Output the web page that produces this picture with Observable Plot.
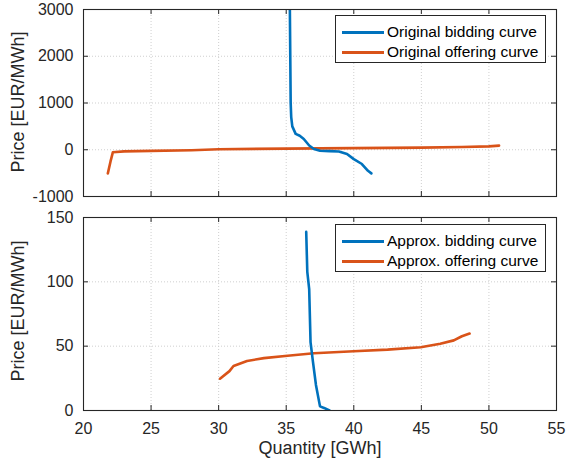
<!DOCTYPE html>
<html><head><meta charset="utf-8">
<script src="https://cdn.jsdelivr.net/npm/d3@7"></script>
<script src="https://cdn.jsdelivr.net/npm/@observablehq/plot@0.6"></script>
<style>
body{margin:0;background:#fff;font-family:"Liberation Sans",Arial,sans-serif}
#wrap{position:relative;width:566px;height:464px;overflow:hidden}
#wrap svg{display:block}
.legend{position:absolute;left:335px;width:211px;height:48px;border:1px solid #262626;background:#fff;box-sizing:border-box;font-size:15.5px;color:#000}
.legend .row{position:absolute;left:0;height:20px;line-height:20px;white-space:nowrap}
.legend .sw{position:absolute;left:6px;top:9px;width:42px;height:3px}
.legend .tx{position:absolute;left:51px;top:0}
.ylab{position:absolute;font-size:18px;color:#262626;white-space:nowrap;transform:translate(-50%,-50%) rotate(-90deg)}
.xlab{position:absolute;font-size:18px;color:#262626;white-space:nowrap;transform:translate(-50%,-50%)}
</style></head>
<body><div id="wrap"></div>
<script>
// ---- data ----
const xTicks = [20, 25, 30, 35, 40, 45, 50, 55];
const topYTicks = [-1000, 0, 1000, 2000, 3000];
const botYTicks = [0, 50, 100, 150];

const origBidQ = [35.27, 35.3, 35.33, 35.37, 35.45, 35.7, 36.0, 36.3, 36.7, 37.05, 37.5, 38.2, 38.9, 39.5, 40.0, 40.6, 41.05, 41.3];
const origBidP = [3000, 2000, 1000, 700, 500, 340, 300, 230, 90, 15, -20, -30, -36, -90, -200, -305, -450, -505];
const origOffQ = [21.8, 22.0, 22.17, 23, 25, 28, 30, 35, 40, 45, 48, 50, 50.75];
const origOffP = [-505, -250, -55, -35, -25, -10, 10, 25, 35, 45, 58, 72, 88];

const apprBidQ = [36.48, 36.56, 36.7, 36.8, 36.97, 37.2, 37.5, 37.8, 38.2];
const apprBidP = [138.8, 107.7, 94.4, 53.2, 38.5, 19.9, 3.2, 2.0, 0];
const apprOffQ = [30.1, 30.8, 31.1, 32.1, 33.35, 35.1, 37.05, 40.0, 42.5, 44.95, 46.4, 47.4, 48.0, 48.57];
const apprOffP = [24.7, 30.6, 34.6, 38.5, 40.7, 42.5, 44.5, 46.0, 47.3, 49.2, 51.9, 54.5, 57.7, 59.8];

const seriesNames = ["Original bidding curve", "Original offering curve", "Approx. bidding curve", "Approx. offering curve"];
const BLUE = "#0072BD", ORANGE = "#D95319", AX = "#262626";

const toRows = (qs, ps) => qs.map((q, i) => ({q, p: ps[i]}));

const W = 566, ML = 83, MR = 10;
const pw = W - ML - MR;

function panel({height, marginTop, marginBottom, yDomain, yTicks, bid, off, showX}) {
  const ph = height - marginTop - marginBottom;
  const marks = [
    Plot.gridX(xTicks, {stroke: "#cfcfcf", strokeOpacity: 1, strokeDasharray: "1,2"}),
    Plot.gridY(yTicks, {stroke: "#cfcfcf", strokeOpacity: 1, strokeDasharray: "1,2"}),
    Plot.line(toRows(off.q, off.p), {x: "q", y: "p", stroke: ORANGE, strokeWidth: 2.6, clip: true}),
    Plot.line(toRows(bid.q, bid.p), {x: "q", y: "p", stroke: BLUE, strokeWidth: 2.6, clip: true}),
    Plot.tickX(xTicks, {x: d => d, insetTop: ph - 5, stroke: AX}),
    Plot.tickX(xTicks, {x: d => d, insetBottom: ph - 5, stroke: AX}),
    Plot.tickY(yTicks, {y: d => d, insetRight: pw - 5, stroke: AX}),
    Plot.tickY(yTicks, {y: d => d, insetLeft: pw - 5, stroke: AX}),
    Plot.frame({stroke: AX, strokeWidth: 1.1}),
    Plot.axisY(yTicks, {tickSize: 0, tickPadding: 10, label: null, fontSize: 16, fill: AX, tickFormat: d => String(d)})
  ];
  if (showX) marks.push(Plot.axisX(xTicks, {tickSize: 0, tickPadding: 12, label: null, fontSize: 16, fill: AX}));
  return Plot.plot({
    width: W, height, marginLeft: ML, marginRight: MR, marginTop, marginBottom,
    x: {domain: [20, 55], axis: showX ? undefined : null},
    y: {domain: yDomain},
    style: {fontFamily: '"Liberation Sans", Arial, sans-serif', background: "#fff", overflow: "visible"},
    marks
  });
}

const wrap = document.getElementById("wrap");
wrap.appendChild(panel({
  height: 205, marginTop: 9, marginBottom: 9, yDomain: [-1000, 3000], yTicks: topYTicks,
  bid: {q: origBidQ, p: origBidP}, off: {q: origOffQ, p: origOffP}, showX: false
}));
wrap.appendChild(panel({
  height: 259, marginTop: 12, marginBottom: 54, yDomain: [0, 150], yTicks: botYTicks,
  bid: {q: apprBidQ, p: apprBidP}, off: {q: apprOffQ, p: apprOffP}, showX: true
}));

function legend(top, names) {
  const d = document.createElement("div");
  d.className = "legend";
  d.style.top = top + "px";
  [[names[0], BLUE, 6], [names[1], ORANGE, 26]].forEach(([t, c, y]) => {
    const r = document.createElement("div");
    r.className = "row"; r.style.top = y + "px";
    r.innerHTML = `<div class="sw" style="background:${c}"></div><div class="tx">${t}</div>`;
    d.appendChild(r);
  });
  wrap.appendChild(d);
}
legend(15, seriesNames.slice(0, 2));
legend(224, seriesNames.slice(2, 4));

function label(cls, text, x, y) {
  const d = document.createElement("div");
  d.className = cls; d.textContent = text;
  d.style.left = x + "px"; d.style.top = y + "px";
  wrap.appendChild(d);
}
label("ylab", "Price [EUR/MWh]", 18, 102);
label("ylab", "Price [EUR/MWh]", 18, 311);
label("xlab", "Quantity [GWh]", 320, 448);
</script>
</body></html>
